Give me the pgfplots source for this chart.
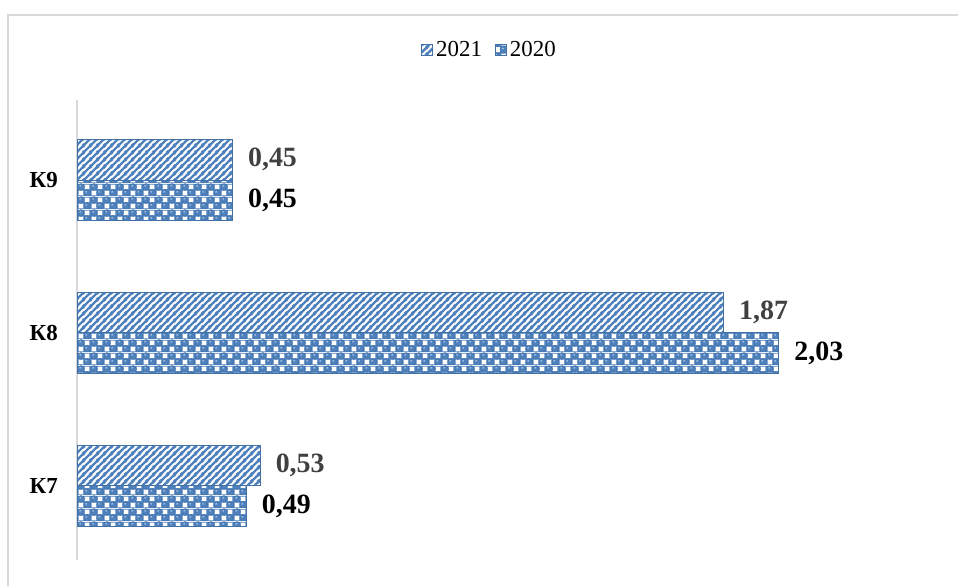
\documentclass[border=0pt]{standalone}
\usepackage{fontspec}
\setmainfont{Liberation Serif}
\usepackage{pgfplots}
\pgfplotsset{compat=1.18}
\usetikzlibrary{patterns}

\definecolor{barblue}{RGB}{79,129,189}
\definecolor{edgeblue}{RGB}{65,113,167}
\definecolor{hiblue}{RGB}{190,210,238}
\definecolor{framegray}{RGB}{217,217,217}
\definecolor{axisgray}{RGB}{217,217,217}
\definecolor{labelgray}{RGB}{64,64,64}

% wide diagonal stripes, blue on white
\pgfdeclarepatterninherentlycolored{xlstripes}
  {\pgfpointorigin}{\pgfqpoint{7bp}{7bp}}{\pgfqpoint{7bp}{7bp}}
{%
  \pgfsetfillcolor{white}%
  \pgfpathrectangle{\pgfpointorigin}{\pgfqpoint{7bp}{7bp}}%
  \pgfusepath{fill}%
  \pgfsetstrokecolor{barblue}%
  \pgfsetlinewidth{2.6bp}%
  \pgfpathmoveto{\pgfqpoint{-1bp}{-1bp}}\pgfpathlineto{\pgfqpoint{8bp}{8bp}}%
  \pgfpathmoveto{\pgfqpoint{-1bp}{6bp}}\pgfpathlineto{\pgfqpoint{1bp}{8bp}}%
  \pgfpathmoveto{\pgfqpoint{6bp}{-1bp}}\pgfpathlineto{\pgfqpoint{8bp}{1bp}}%
  \pgfusepath{stroke}%
}

% blue spheres with white squares between them
\pgfdeclarepatterninherentlycolored{spheres}
  {\pgfpointorigin}{\pgfqpoint{13bp}{13bp}}{\pgfqpoint{13bp}{13bp}}
{%
  \pgfsetfillcolor{barblue}%
  \pgfpathrectangle{\pgfpointorigin}{\pgfqpoint{13bp}{13bp}}%
  \pgfusepath{fill}%
  \pgfsetfillcolor{white}%
  \pgfpathrectangle{\pgfqpoint{0.75bp}{0.75bp}}{\pgfqpoint{5bp}{5bp}}%
  \pgfpathrectangle{\pgfqpoint{7.25bp}{7.25bp}}{\pgfqpoint{5bp}{5bp}}%
  \pgfusepath{fill}%
  \pgfsetfillcolor{barblue}%
  \pgfsetstrokecolor{edgeblue}%
  \pgfsetlinewidth{0.5bp}%
  \pgfpathcircle{\pgfqpoint{3.25bp}{9.75bp}}{3.6bp}%
  \pgfpathcircle{\pgfqpoint{9.75bp}{3.25bp}}{3.6bp}%
  \pgfusepath{fill,stroke}%
  \pgfsetfillcolor{hiblue}%
  \pgfpathcircle{\pgfqpoint{2.3bp}{10.9bp}}{0.9bp}%
  \pgfpathcircle{\pgfqpoint{8.8bp}{4.4bp}}{0.9bp}%
  \pgfusepath{fill}%
}

\begin{document}
\begin{tikzpicture}
\useasboundingbox (0,0) rectangle (958bp,-586bp);
% outer chart frame
\draw[color=framegray, line width=1.3bp] (8bp,-15bp) rectangle (1000bp,-620bp);
\begin{axis}[
  at={(77bp,-560bp)}, anchor=south west,
  scale only axis, width=864.5bp, height=460bp,
  xbar, bar width=40.5bp,
  xmin=0, xmax=2.5, ymin=-0.484, ymax=2.523,
  axis x line=none,
  axis y line=left,
  y axis line style={-, draw=axisgray, line width=1.6bp},
  ytick={0,1,2}, yticklabels={К7,К8,К9},
  major tick length=0pt,
  yticklabel style={font=\fontsize{23}{27}\selectfont\bfseries, inner sep=0pt, xshift=-19bp},
  clip=false,
  nodes near coords={\pgfmathprintnumber[fixed,fixed zerofill,precision=2,use comma,assume math mode=true]{\pgfplotspointmeta}},
  nodes near coords style={anchor=west, inner sep=0pt, xshift=15bp, font=\fontsize{28}{32}\selectfont\bfseries},
  legend columns=2,
  legend style={at={(0.4777,1.1087)}, anchor=center, draw=none, fill=none,
    font=\fontsize{23}{27}\selectfont,
    nodes={inner xsep=3bp},
    /tikz/every even column/.append style={column sep=10bp}},
  legend image code/.code={\draw[#1] (0bp,-5.5bp) rectangle (11bp,5.5bp);},
]
\addplot[draw=edgeblue, line width=1bp, pattern=xlstripes, bar shift=20.25bp,
  every node near coord/.append style={text=labelgray}]
  coordinates {(0.53,0) (1.87,1) (0.45,2)};
\addplot[draw=edgeblue, line width=1bp, pattern=spheres, bar shift=-20.25bp,
  every node near coord/.append style={text=black}]
  coordinates {(0.49,0) (2.03,1) (0.45,2)};
\legend{2021,2020}
\end{axis}
\end{tikzpicture}
\end{document}
